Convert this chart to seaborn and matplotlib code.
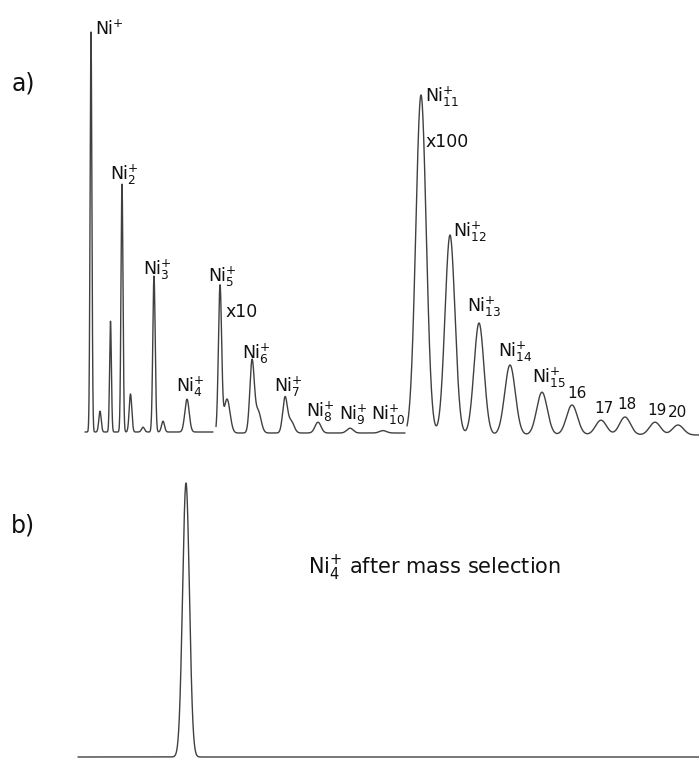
import numpy as np
import pandas as pd
import matplotlib
matplotlib.use("Agg")
import matplotlib.pyplot as plt
import seaborn as sns

sns.set_theme(style="white")
plt.rcParams['font.family'] = ['DejaVu Sans']
plt.rcParams['mathtext.fontset'] = 'dejavusans'

# ---- data (x = flight-time channel, y = relative intensity) ----
# panel a, three gain segments (x1, x10, x100)
seg_ranges = [(85, 213), (216, 405), (407, 699)]
seg_offsets = [0.25, 0.0, -0.5]

seg1_pos = [91, 100, 110.5, 122, 130.5, 143, 154, 163, 187]
seg1_height = [100, 5.2, 27.7, 62, 9.5, 1.2, 39, 2.7, 8.2]
seg1_width = [0.9, 1.2, 0.9, 1.0, 1.3, 1.5, 1.2, 1.5, 2.2]

seg2_pos = [220, 227, 252, 258, 285, 291, 318, 350, 383]
seg2_height = [36.5, 8.5, 17.7, 5.5, 8.7, 3.0, 2.7, 1.2, 0.6]
seg2_width = [1.6, 3.0, 2.2, 3.0, 2.3, 3.0, 3.0, 3.2, 3.5]

seg3_pos = [421, 450, 479, 510, 542, 572, 601, 625, 655, 678]
seg3_height = [85, 50, 28, 17.5, 10.7, 7.5, 3.7, 4.5, 3.2, 2.5]
seg3_width = [5.2, 5.0, 5.0, 5.3, 5.3, 5.5, 5.5, 5.5, 5.5, 5.5]

# panel b: mass selected Ni4+
b_range = (78, 699)
b_pos = [186]
b_height = [100]
b_width = [3.4]

labels_a = [r"Ni$^{+}$", r"Ni$_{2}^{+}$", r"Ni$_{3}^{+}$", r"Ni$_{4}^{+}$", r"Ni$_{5}^{+}$", "x10",
            r"Ni$_{6}^{+}$", r"Ni$_{7}^{+}$", r"Ni$_{8}^{+}$", r"Ni$_{9}^{+}$", r"Ni$_{10}^{+}$",
            r"Ni$_{11}^{+}$", "x100", r"Ni$_{12}^{+}$", r"Ni$_{13}^{+}$", r"Ni$_{14}^{+}$",
            r"Ni$_{15}^{+}$", "16", "17", "18", "19", "20"]
labels_a_x = [95, 110, 143, 176, 208, 226, 242, 274, 306, 339, 371,
              425, 426, 453, 467, 498, 532, 567, 594, 617, 647, 668]
labels_a_y = [99.5, 63.25, 39.5, 10.25, 37.75, 29, 18.5, 10.25, 4, 3.25, 3.25,
              82.75, 71.5, 49, 30.25, 19, 12.5, 8.75, 5, 6, 4.5, 4]


def trace(x, pos, height, width, offset=0.0):
    y = np.full_like(x, offset, dtype=float)
    for p, h, w in zip(pos, height, width):
        y += h * np.exp(-0.5 * ((x - p) / w) ** 2)
    return y


W, H = 699, 761
fig = plt.figure(figsize=(W / 100, H / 100), dpi=100)
line_color = '#404040'
text_color = '#111111'

# panel a: rows 0..445, baseline at row 433, 4 px per unit
ax_a = fig.add_axes([0, (H - 445) / H, 1, 445 / H])
ax_a.set_xlim(0, W)
ax_a.set_ylim(-3, 108.25)
ax_a.axis('off')

segs = [(seg1_pos, seg1_height, seg1_width),
        (seg2_pos, seg2_height, seg2_width),
        (seg3_pos, seg3_height, seg3_width)]
for (x0, x1), off, (p, h, w) in zip(seg_ranges, seg_offsets, segs):
    xs = np.linspace(x0, x1, (x1 - x0) * 8)
    df = pd.DataFrame({'x': xs, 'y': trace(xs, p, h, w, off)})
    sns.lineplot(data=df, x='x', y='y', ax=ax_a, color=line_color, lw=1.0,
                 estimator=None, sort=False)

for txt, lx, ly in zip(labels_a, labels_a_x, labels_a_y):
    fs = 11 if txt.isdigit() else 12.5
    ax_a.text(lx, ly, txt, ha='left', va='baseline', fontsize=fs, color=text_color)

ax_a.text(12, (433 - 83) / 4, "a)", ha='left', va='center', fontsize=17, color=text_color)

# panel b: rows 460..761, baseline at row 757, 2.74 px per unit
ax_b = fig.add_axes([0, 0, 1, 301 / H])
ax_b.set_xlim(0, W)
ax_b.set_ylim(-4 / 2.74, 297 / 2.74)
ax_b.axis('off')

xb = np.linspace(b_range[0], b_range[1], (b_range[1] - b_range[0]) * 8)
dfb = pd.DataFrame({'x': xb, 'y': trace(xb, b_pos, b_height, b_width)})
sns.lineplot(data=dfb, x='x', y='y', ax=ax_b, color=line_color, lw=1.0,
             estimator=None, sort=False)

ax_b.text(11, (757 - 526) / 2.74, "b)", ha='left', va='center', fontsize=17, color=text_color)
ax_b.text(308, (757 - 574) / 2.74, r"Ni$_{4}^{+}$ after mass selection", ha='left',
          va='baseline', fontsize=15, color=text_color)

fig.savefig('out.png', dpi=100, facecolor='white')
